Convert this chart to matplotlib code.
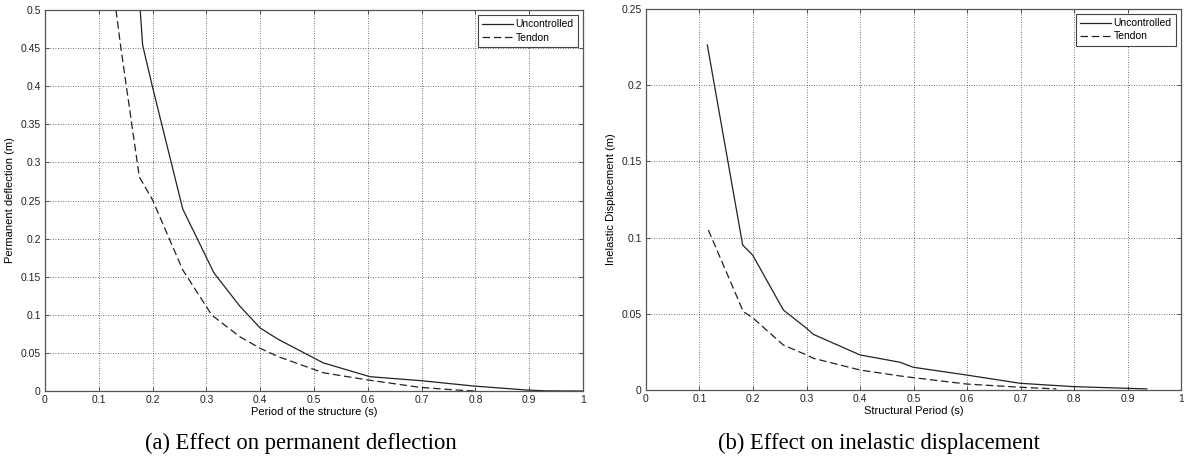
import matplotlib
matplotlib.use("Agg")
import matplotlib.pyplot as plt
import numpy as np

# (a) permanent deflection vs period of the structure
period_a_unc = [0.177, 0.1815, 0.1995, 0.256, 0.314, 0.362, 0.400, 0.433, 0.517, 0.604, 0.700, 0.796, 0.895, 0.932, 1.0]
defl_unc = [0.50, 0.454, 0.40, 0.239, 0.155, 0.1115, 0.0827, 0.068, 0.037, 0.0188, 0.0135, 0.0066, 0.0013, 0.0002, 0.0]
period_a_ten = [0.132, 0.1407, 0.1753, 0.200, 0.256, 0.310, 0.362, 0.400, 0.434, 0.517, 0.601, 0.697, 0.765, 0.80]
defl_ten = [0.50, 0.452, 0.281, 0.2507, 0.159, 0.0997, 0.0713, 0.056, 0.045, 0.024, 0.0144, 0.0048, 0.0013, 0.0]

# (b) inelastic displacement vs structural period
period_b_unc = [0.1146, 0.1807, 0.1994, 0.2567, 0.300, 0.3128, 0.400, 0.4748, 0.4997, 0.5994, 0.699, 0.799, 0.936]
disp_unc = [0.2264, 0.0951, 0.0885, 0.0525, 0.0405, 0.0365, 0.023, 0.0182, 0.0149, 0.0098, 0.0044, 0.0022, 0.0007]
period_b_ten = [0.1165, 0.1819, 0.1994, 0.2567, 0.300, 0.3128, 0.400, 0.4748, 0.4997, 0.5994, 0.699, 0.767]
disp_ten = [0.105, 0.0514, 0.0474, 0.0295, 0.023, 0.0208, 0.0131, 0.0092, 0.0081, 0.0039, 0.0018, 0.0007]

xticks = np.round(np.arange(0, 1.01, 0.1), 1)
yticks_a = np.round(np.arange(0, 0.501, 0.05), 2)
yticks_b = np.round(np.arange(0, 0.251, 0.05), 2)

captions = ["(a) Effect on permanent deflection", "(b) Effect on inelastic displacement"]

tick_font = ["Liberation Sans", "DejaVu Sans"]

fig = plt.figure(figsize=(11.84, 4.68), dpi=100)
ax1 = fig.add_axes([0.038, 0.1645, 0.4544, 0.814])
ax2 = fig.add_axes([0.5456, 0.1667, 0.4519, 0.8141])


def style(ax, yticks, ylim, xlabel, ylabel):
    ax.set_xlim(0, 1)
    ax.set_ylim(*ylim)
    ax.set_xticks(xticks)
    ax.set_yticks(yticks)
    ax.set_xticklabels([f"{v:g}" for v in xticks], family=tick_font, fontsize=7.5, color="#222222")
    ax.set_yticklabels([f"{v:g}" for v in yticks], family=tick_font, fontsize=7.5, color="#222222")
    ax.tick_params(direction="in", top=True, right=True, length=3, width=0.6, pad=3, color="#333333")
    ax.grid(True, linestyle=(0, (1, 2)), color="#444444", linewidth=0.6)
    for sp in ax.spines.values():
        sp.set_color("#555555")
        sp.set_linewidth(0.9)
    ax.set_xlabel(xlabel, family=tick_font, fontsize=8, labelpad=1)
    ax.set_ylabel(ylabel, family=tick_font, fontsize=8, labelpad=4)


ax1.plot(period_a_unc, defl_unc, color="#222222", linewidth=0.9, label="Uncontrolled")
ax1.plot(period_a_ten, defl_ten, color="#222222", linewidth=0.9, linestyle=(0, (6, 3)), label="Tendon")
style(ax1, yticks_a, (0, 0.5), "Period of the structure (s)", "Permanent deflection (m)")

ax2.plot(period_b_unc, disp_unc, color="#222222", linewidth=0.9, label="Uncontrolled")
ax2.plot(period_b_ten, disp_ten, color="#222222", linewidth=0.9, linestyle=(0, (6, 3)), label="Tendon")
style(ax2, yticks_b, (0, 0.25), "Structural Period (s)", "Inelastic Displacement (m)")

for ax in (ax1, ax2):
    leg = ax.legend(loc="upper right", prop={"family": tick_font, "size": 7.5}, fancybox=False,
                    framealpha=1, edgecolor="#444444", handlelength=3, handletextpad=0.2,
                    borderpad=0.4, labelspacing=0.3, borderaxespad=0.5)
    leg.get_frame().set_linewidth(0.8)

fig.text(301 / 1184, 1 - 443 / 468, captions[0], ha="center", va="center",
         family="Liberation Serif", fontsize=16.3)
fig.text(879 / 1184, 1 - 443 / 468, captions[1], ha="center", va="center",
         family="Liberation Serif", fontsize=16.3)

fig.savefig("out.png", dpi=100)
